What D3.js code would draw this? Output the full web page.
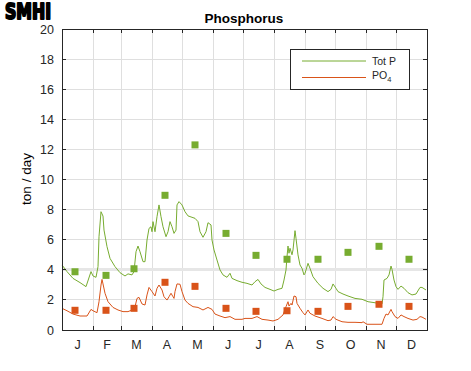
<!DOCTYPE html>
<html>
<head>
<meta charset="utf-8">
<script src="https://cdn.jsdelivr.net/npm/d3@7"></script>
<style>
  body { margin: 0; background: #fff; }
  svg { display: block; font-family: "Liberation Sans", Arial, sans-serif; }
</style>
</head>
<body>
<svg id="chart" width="471" height="371"></svg>
<script>
// month labels and month start day-of-year
const monthLabels = ['J', 'F', 'M', 'A', 'M', 'J', 'J', 'A', 'S', 'O', 'N', 'D'];
const monthStarts = [0, 31, 59, 90, 120, 151, 181, 212, 243, 273, 304, 334];
const yTicks = [0, 2, 4, 6, 8, 10, 12, 14, 16, 18, 20];

// monthly measured values (squares), ton/day
const totPMonthly = [3.87, 3.63, 4.07, 8.95, 12.3, 6.42, 4.96, 4.70, 4.70, 5.16, 5.56, 4.70];
const po4Monthly = [1.31, 1.31, 1.44, 3.17, 2.90, 1.44, 1.24, 1.28, 1.24, 1.57, 1.71, 1.57];

// modelled daily transport (day of year, value)
const totPDays = [0, 5, 11, 18, 24, 29, 31, 34, 36, 37, 39, 41, 42, 45, 48, 53, 58, 63, 66, 70, 72, 74, 76, 78, 81, 83, 85, 87, 89, 90, 91, 93, 95, 97, 99, 101, 104, 106, 108, 110, 112, 114, 115, 117, 120, 123, 126, 133, 136, 138, 141, 144, 146, 149, 150, 152, 155, 158, 161, 165, 166, 168, 170, 175, 180, 185, 190, 193, 196, 199, 203, 208, 212, 216, 220, 222, 224, 225, 226, 227, 228, 230, 231, 233, 234, 236, 238, 240, 242, 243, 246, 248, 251, 256, 261, 266, 269, 271, 274, 276, 281, 286, 293, 300, 306, 313, 320, 321, 322, 325, 327, 329, 330, 332, 334, 336, 339, 342, 346, 350, 354, 358, 360, 364];
const totPLine = [4.32, 3.88, 3.43, 3.15, 2.88, 3.88, 3.59, 3.50, 4.21, 6.20, 7.86, 7.57, 6.64, 5.54, 4.76, 4.21, 3.81, 3.59, 3.73, 3.66, 3.88, 5.20, 5.58, 5.20, 4.54, 4.54, 5.98, 6.75, 6.86, 6.53, 7.20, 6.53, 7.53, 8.31, 7.53, 6.86, 6.20, 6.53, 7.20, 6.86, 6.42, 6.64, 8.31, 8.53, 8.31, 7.86, 7.58, 7.42, 7.20, 6.53, 6.16, 6.53, 7.13, 6.98, 5.98, 5.32, 4.65, 3.99, 3.66, 3.50, 3.59, 3.77, 3.43, 3.28, 3.17, 3.10, 2.99, 3.21, 3.36, 3.06, 2.83, 2.70, 2.59, 2.70, 2.77, 3.32, 3.99, 4.87, 5.58, 5.10, 5.43, 5.00, 5.32, 6.60, 6.09, 4.99, 4.32, 4.10, 3.66, 3.77, 4.43, 4.10, 3.54, 3.10, 2.77, 2.55, 2.70, 3.06, 2.77, 2.55, 2.39, 2.26, 2.10, 2.04, 1.88, 1.81, 1.73, 2.21, 3.32, 3.43, 3.66, 4.25, 4.03, 3.32, 2.88, 2.70, 2.92, 2.77, 2.48, 2.33, 2.39, 2.83, 2.83, 2.66];
const po4Days = [0, 5, 11, 18, 25, 29, 31, 35, 37, 39, 40, 41, 43, 46, 51, 56, 61, 66, 70, 73, 75, 77, 80, 83, 85, 87, 90, 93, 95, 97, 100, 102, 105, 107, 109, 111, 112, 113, 115, 118, 120, 123, 126, 131, 136, 141, 146, 150, 153, 158, 163, 168, 173, 180, 183, 190, 195, 200, 206, 211, 216, 221, 224, 226, 227, 229, 230, 232, 234, 235, 238, 241, 243, 246, 248, 253, 260, 266, 269, 271, 274, 280, 286, 293, 300, 301, 305, 313, 320, 322, 324, 326, 329, 330, 333, 336, 339, 342, 346, 351, 355, 358, 360, 364];
const po4Line = [1.44, 1.28, 1.06, 0.93, 0.93, 1.37, 1.28, 1.15, 1.88, 2.99, 3.36, 3.06, 2.44, 1.88, 1.50, 1.33, 1.22, 1.22, 1.33, 1.55, 2.10, 2.17, 1.73, 1.66, 2.33, 2.83, 2.55, 2.26, 2.77, 2.99, 2.66, 2.21, 1.99, 2.21, 2.44, 2.21, 2.10, 2.55, 3.06, 3.04, 2.55, 1.99, 1.77, 1.55, 1.50, 1.33, 1.50, 1.37, 1.06, 0.93, 0.82, 0.89, 0.71, 0.71, 0.77, 0.77, 0.89, 0.71, 0.66, 0.60, 0.71, 1.00, 1.55, 1.88, 1.59, 1.77, 1.66, 2.26, 2.21, 1.77, 1.44, 1.15, 1.00, 1.33, 1.11, 0.93, 0.77, 0.62, 0.66, 0.89, 0.71, 0.55, 0.51, 0.51, 0.49, 0.55, 0.38, 0.38, 0.38, 0.77, 1.06, 1.00, 1.37, 1.22, 0.89, 0.77, 1.00, 0.89, 0.77, 0.66, 0.71, 0.89, 0.86, 0.71];

const green = '#77ac30';
const orange = '#d95319';
const axisColor = '#262626';

const svg = d3.select('#chart');
const margin = {left: 62, right: 427, top: 29, bottom: 330};

const x = d3.scaleLinear().domain([0, 365]).range([margin.left, margin.right]);
const y = d3.scaleLinear().domain([0, 20]).range([margin.bottom, margin.top]);

// grid
const grid = svg.append('g').attr('stroke', '#dfdfdf').attr('shape-rendering', 'crispEdges');
grid.selectAll('.gx').data(monthStarts.slice(1)).enter().append('line')
  .attr('x1', d => x(d)).attr('x2', d => x(d))
  .attr('y1', y(0)).attr('y2', y(20));
grid.selectAll('.gy').data(yTicks.slice(1, -1)).enter().append('line')
  .attr('x1', x(0)).attr('x2', x(365))
  .attr('y1', d => y(d)).attr('y2', d => y(d))
  .attr('stroke', d => d === 4 ? '#e6e6e6' : '#dfdfdf')
  .attr('stroke-width', d => d === 4 ? 3 : 1);

// daily lines
const line = d3.line().x(d => x(d[0])).y(d => y(d[1]));
svg.append('path').datum(d3.zip(totPDays, totPLine))
  .attr('d', line).attr('fill', 'none').attr('stroke', green).attr('stroke-width', 1);
svg.append('path').datum(d3.zip(po4Days, po4Line))
  .attr('d', line).attr('fill', 'none').attr('stroke', orange).attr('stroke-width', 1);

// monthly squares, plotted on the 14th of each month
const sq = 7;
svg.selectAll('.sqTot').data(totPMonthly).enter().append('rect')
  .attr('x', (d, i) => x(monthStarts[i] + 13) - sq / 2)
  .attr('y', d => y(d) - sq / 2)
  .attr('width', sq).attr('height', sq).attr('fill', green);
svg.selectAll('.sqPo4').data(po4Monthly).enter().append('rect')
  .attr('x', (d, i) => x(monthStarts[i] + 13) - sq / 2)
  .attr('y', d => y(d) - sq / 2)
  .attr('width', sq).attr('height', sq).attr('fill', orange);

// axes box
const ax = svg.append('g').attr('stroke', axisColor).attr('shape-rendering', 'crispEdges');
ax.append('rect')
  .attr('x', x(0)).attr('y', y(20))
  .attr('width', x(365) - x(0)).attr('height', y(0) - y(20))
  .attr('fill', 'none');
// month ticks bottom + top (inward)
monthStarts.slice(1).forEach(d => {
  ax.append('line').attr('x1', x(d)).attr('x2', x(d)).attr('y1', y(0)).attr('y2', y(0) - 4);
  ax.append('line').attr('x1', x(d)).attr('x2', x(d)).attr('y1', y(20)).attr('y2', y(20) + 4);
});
yTicks.forEach(d => {
  ax.append('line').attr('x1', x(0)).attr('x2', x(0) + 4).attr('y1', y(d)).attr('y2', y(d));
  ax.append('line').attr('x1', x(365)).attr('x2', x(365) - 4).attr('y1', y(d)).attr('y2', y(d));
});

// tick labels
svg.selectAll('.ylab').data(yTicks).enter().append('text')
  .attr('x', x(0) - 8).attr('y', d => y(d) + 4.5)
  .attr('text-anchor', 'end').attr('font-size', 12.5).attr('fill', axisColor)
  .text(d => d);
const monthEnds = monthStarts.slice(1).concat([365]);
svg.selectAll('.xlab').data(monthLabels).enter().append('text')
  .attr('x', (d, i) => x((monthStarts[i] + monthEnds[i]) / 2))
  .attr('y', 349)
  .attr('text-anchor', 'middle').attr('font-size', 12.5).attr('fill', axisColor)
  .text(d => d);

// axis label and title
svg.append('text')
  .attr('transform', 'translate(31,179) rotate(-90)')
  .attr('text-anchor', 'middle').attr('font-size', 13.5).attr('fill', '#000')
  .text('ton / day');
svg.append('text')
  .attr('x', 244).attr('y', 22.5)
  .attr('text-anchor', 'middle').attr('font-size', 13.5).attr('font-weight', 'bold').attr('fill', '#000')
  .text('Phosphorus');

// legend
const lg = svg.append('g');
lg.append('rect').attr('x', 290.5).attr('y', 49.5).attr('width', 118.5).attr('height', 40)
  .attr('fill', '#fff').attr('stroke', axisColor).attr('shape-rendering', 'crispEdges');
lg.append('line').attr('x1', 302).attr('x2', 366).attr('y1', 61).attr('y2', 61)
  .attr('stroke', green);
lg.append('line').attr('x1', 302).attr('x2', 366).attr('y1', 77.5).attr('y2', 77.5)
  .attr('stroke', orange);
lg.append('text').attr('x', 372).attr('y', 64.5).attr('font-size', 10.5).attr('fill', axisColor)
  .text('Tot P');
const po = lg.append('text').attr('x', 372).attr('y', 78.5).attr('font-size', 10.5).attr('fill', axisColor);
po.append('tspan').text('PO');
po.append('tspan').attr('dy', 3.5).attr('font-size', 7.5).text('4');

// SMHI logo
svg.append('text')
  .attr('x', 5).attr('y', 19)
  .attr('font-family', '"Liberation Sans Narrow", "DejaVu Sans Condensed", sans-serif')
  .attr('font-weight', 'bold').attr('font-size', 22)
  .attr('textLength', 46).attr('lengthAdjust', 'spacingAndGlyphs')
  .attr('stroke', '#000').attr('stroke-width', 2).attr('stroke-linejoin', 'round').attr('fill', '#000')
  .text('SMHI');
</script>
</body>
</html>
